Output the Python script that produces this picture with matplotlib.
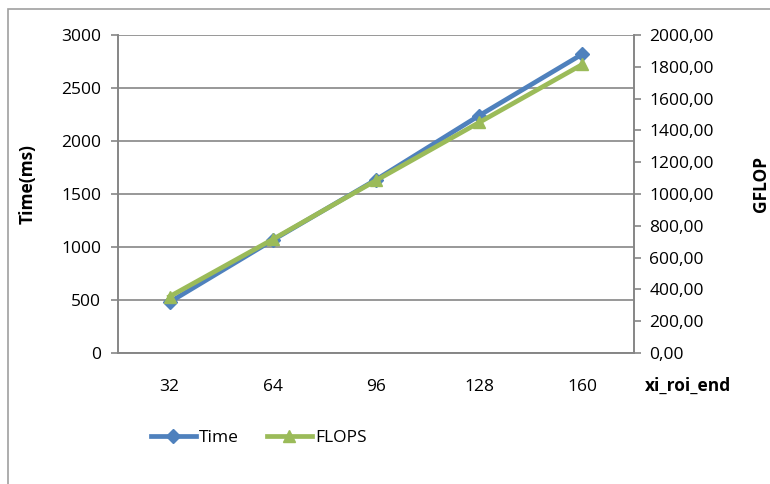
import matplotlib.pyplot as plt
from matplotlib.patches import Rectangle
from matplotlib.ticker import FuncFormatter

categories = ["32", "64", "96", "128", "160"]
time_ms = [480, 1065, 1635, 2240, 2820]
gflop = [355, 715, 1085, 1450, 1815]

blue = "#4F81BD"
green = "#9BBB59"
grid = "#868686"
fs = 12.5

plt.rcParams["font.family"] = ["Open Sans", "DejaVu Sans"]

fig = plt.figure(figsize=(7.7, 4.84), dpi=100)

# outer chart border (only left and top edges visible)
fig.patches.append(Rectangle((8 / 770, -0.1), 1.2, (484 - 9) / 484 + 0.1,
                             transform=fig.transFigure, fill=False,
                             edgecolor="#A0A0A0", linewidth=1.2))

ax = fig.add_axes([118 / 770, 1 - 353 / 484, (634 - 118) / 770, (353 - 35) / 484])
ax2 = ax.twinx()

x = list(range(len(categories)))
l1, = ax.plot(x, time_ms, color=blue, linewidth=3.4, marker="D", markersize=7,
              label="Time", zorder=3)
l2, = ax2.plot(x, gflop, color=green, linewidth=3.4, marker="^", markersize=9,
               label="FLOPS", zorder=4)

ax.set_xlim(-0.5, len(categories) - 0.5)
ax.set_ylim(0, 3000)
ax.set_yticks(range(0, 3001, 500))
ax2.set_ylim(0, 2000)
ax2.set_yticks(range(0, 2001, 200))
ax2.yaxis.set_major_formatter(FuncFormatter(lambda v, p: f"{v:.2f}".replace(".", ",")))

ax.set_xticks(x)
ax.set_xticklabels(categories)
ax.tick_params(axis="x", length=0, pad=19, labelsize=fs)
ax.tick_params(axis="y", length=5, width=1.2, color=grid, pad=7, labelsize=fs)
ax2.tick_params(axis="y", length=5, width=1.2, color=grid, pad=6, labelsize=fs)

ax.grid(axis="y", color=grid, linewidth=1.2)
ax.set_axisbelow(True)
for a in (ax, ax2):
    for side in ("left", "right", "bottom"):
        a.spines[side].set_color(grid)
        a.spines[side].set_linewidth(1.2)
    a.spines["top"].set_visible(False)

ax.set_ylabel("Time(ms)", fontweight="bold", fontsize=fs)
ax.yaxis.set_label_coords(-0.158, 0.53)
ax2.set_ylabel("GFLOP", fontweight="bold", fontsize=fs)
ax2.yaxis.set_label_coords(1.228, 0.53)
fig.text(688 / 770, 1 - 386 / 484, "xi_roi_end", fontweight="bold", fontsize=fs,
         ha="center", va="center")

fig.legend(handles=[l1, l2], loc="center left", bbox_to_anchor=(135 / 770, 1 - 438 / 484),
           ncol=2, frameon=False, fontsize=fs, handlelength=2.6, columnspacing=1.6,
           handletextpad=0.2)

plt.savefig("out.png", dpi=100)
